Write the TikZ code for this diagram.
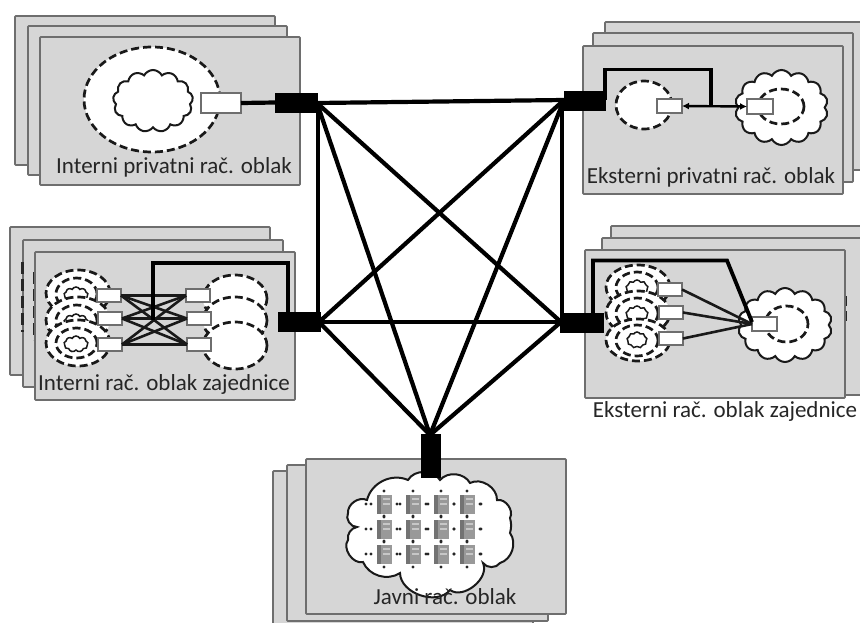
\documentclass[tikz,border=0pt]{standalone}
\usepackage{fontspec}
\setmainfont{Carlito}
\usetikzlibrary{shapes.geometric,shapes.symbols,arrows.meta}
\definecolor{cardgray}{HTML}{D6D6D6}
\definecolor{cardline}{HTML}{6E6E6E}
\tikzset{
  card/.style={draw=cardline,line width=1.7pt,fill=cardgray,rounded corners=0.8pt,inner sep=0,outer sep=0},
  whitebox/.style={draw=cardline,line width=1.7pt,fill=white,inner sep=0,outer sep=0},
  blackbox/.style={draw=black,fill=black,line width=0.5pt,inner sep=0,outer sep=0},
  dashell/.style={ellipse,draw=black!90,fill=white,line width=2.7pt,dash pattern=on 8pt off 4pt,inner sep=0,outer sep=0},
  dashopen/.style={ellipse,draw=black!90,line width=2.7pt,dash pattern=on 8pt off 4pt,inner sep=0,outer sep=0},
  cloudn/.style={cloud,draw=black!90,fill=white,line width=2pt,cloud puffs=11,cloud puff arc=125,aspect=1.3,inner sep=0,outer sep=0},
  trunk/.style={draw=black,line width=4.2pt},
  thickpath/.style={draw=black,line width=3.8pt,line join=miter},
  thinlink/.style={draw=black!90,line width=2.6pt},
  lbl/.style={font=\fontsize{23}{25}\selectfont,text=black!85,inner sep=0,outer sep=0},
  srvdot/.style={circle,fill=black!85,inner sep=0,minimum size=3.2pt},
  srvface/.style={draw=none,fill=black!40,inner sep=0},
}
\newcommand{\bx}[6]{\node[#2,minimum width={(#5)-(#3)},minimum height={(#6)-(#4)}] (#1) at ({((#3)+(#5))/2},{((#4)+(#6))/2}) {};}
\newcommand{\elln}[6]{\node[#2,minimum width={(#5)-(#3)},minimum height={(#6)-(#4)}] (#1) at ({((#3)+(#5))/2},{((#4)+(#6))/2}) {};}
\begin{document}
\begin{tikzpicture}[x=1pt,y=-1pt]
\useasboundingbox (0,0) rectangle (860,622);
\clip (0,0) rectangle (860,622);
% top-left stack
\bx{tlA}{card}{15}{16}{275}{165}
\bx{tlB}{card}{28}{26}{287}{175}
\bx{tlC}{card}{40}{37}{300}{185}
\elln{tlE}{dashell}{84}{47}{220}{152}
\elln{tlCl}{cloudn,cloud puffs=13}{113}{70}{193}{132}
\bx{tlW}{whitebox}{201}{93}{241}{113}
\node[lbl] (tlL) at (174,167) {Interni privatni rač. oblak};
% top-right stack
\bx{trA}{card}{605}{22}{880}{170}
\bx{trB}{card}{593}{33}{853}{182}
\bx{trC}{card}{583}{46}{843}{194}
\elln{trE}{dashell}{616}{81}{672}{129}
\elln{trCl}{cloudn,cloud puffs=14}{735}{70}{828}{145}
\elln{trI}{dashopen}{758}{89}{804}{124}
\bx{trW}{whitebox}{657}{99}{682}{113}
\bx{trV}{whitebox}{747}{99}{773}{114}
\node[lbl] (trL) at (711,177) {Eksterni privatni rač. oblak};
% middle-left stack
\bx{mlA}{card}{10}{227}{270}{375}
\bx{mlB}{card}{23}{240}{283}{387}
\draw[black!85,line width=3pt,dash pattern=on 12pt off 5pt] (22,262) -- (22,332);
\draw[black!85,line width=2.6pt,dash pattern=on 12pt off 5pt] (34,272) -- (34,340);
\bx{mlC}{card}{35}{252}{295}{400}
\foreach \n/\y in {a/270,b/297}{
  \elln{mlO\n}{dashell}{46}{\y}{110}{\y+46}
  \elln{mlI\n}{dashell}{56}{\y+8}{97}{\y+40}
  \elln{mlK\n}{cloudn,line width=1.5pt,cloud puffs=9}{64}{\y+17}{88}{\y+33}
}
\elln{mlOc}{dashell}{46}{320}{110}{366}
\elln{mlIc}{dashell}{56}{328}{97}{358}
\elln{mlKc}{cloudn,line width=1.5pt,cloud puffs=9}{64}{336}{88}{352}
\foreach \n/\y in {a/275,b/297,c/322}{
  \elln{mlR\n}{dashell}{203}{\y}{267}{\y+47}
}
\bx{mlL1}{whitebox}{97}{289}{121}{302}
\bx{mlL2}{whitebox}{98}{312}{122}{325}
\bx{mlL3}{whitebox}{98}{338}{122}{351}
\bx{mlR1}{whitebox}{186}{289}{210}{302}
\bx{mlR2}{whitebox}{187}{312}{211}{325}
\bx{mlR3}{whitebox}{187}{338}{211}{351}
\foreach \i in {1,2,3}\foreach \j in {1,2,3}{\draw[thinlink] (mlL\i.east) -- (mlR\j.west);}
\node[lbl] (mlT) at (164,384) {Interni rač. oblak zajednice};
% middle-right stack
\bx{mrA}{card}{611}{226}{880}{385}
\bx{mrB}{card}{602}{238}{880}{395}
\draw[black!85,line width=2.6pt,dash pattern=on 10pt off 5pt] (846,296) -- (846,322);
\bx{mrC}{card}{585}{250}{845}{398}
\foreach \n/\y in {a/265,b/291}{
  \elln{mrO\n}{dashell}{606}{\y}{670}{\y+44}
  \elln{mrI\n}{dashell}{616}{\y+7}{658}{\y+38}
  \elln{mrK\n}{cloudn,line width=1.5pt,cloud puffs=9}{626}{\y+15}{648}{\y+31}
}
\elln{mrOc}{dashell}{606}{319}{670}{361}
\elln{mrIc}{dashell}{616}{325}{658}{356}
\elln{mrKc}{cloudn,line width=1.5pt,cloud puffs=9}{627}{332}{647}{348}
\elln{mrCl}{cloudn,cloud puffs=14}{738}{288}{832}{362}
\elln{mrI}{dashopen}{765}{306}{808}{342}
\bx{mrL1}{whitebox}{658}{283}{682}{296}
\bx{mrL2}{whitebox}{659}{306}{683}{319}
\bx{mrL3}{whitebox}{659}{332}{683}{345}
\bx{mrV}{whitebox}{752}{317}{777}{331}
\foreach \i in {1,2,3}{\draw[thinlink] (mrL\i.east) -- (mrV.west);}
\node[lbl] (mrT) at (725,411) {Eksterni rač. oblak zajednice};
% bottom stack
\bx{bA}{card}{273}{471}{533}{640}
\bx{bB}{card}{287}{465}{548}{621}
\bx{bC}{card}{306}{459}{566}{614}
% bottom cloud
\draw[black!90,fill=white,line width=2pt]
  (367,500) to[bend left=50] (408,480) to[bend left=60] (440,480) to[bend left=55] (470,483)
  to[bend left=60] (497,500) to[bend left=65] (510,518) to[bend left=15] (510,533)
  to[bend left=55] (500,563) to[bend left=55] (483,563) to[bend left=75] (450,590) to[bend left=70] (400,573)
  to[bend left=50] (363,562) to[bend left=70] (348,540) to[bend left=45] (357,527) to[bend left=60] (348,513) to[bend left=60] (367,500) -- cycle;
\foreach \c/\x in {1/384,2/413,3/441,4/467}\foreach \r/\y in {1/504,2/529,3/554}{
  \node[srvdot] (dl\c\r) at (\x-13,\y) {};
  \node[srvdot] (dr\c\r) at (\x+13,\y) {};
  \node[srvdot] (dt\c\r) at (\x,\y-13) {};
  \node[srvdot] (db\c\r) at (\x,\y+13) {};
  \node[srvface,minimum width=15pt,minimum height=19pt] (sv\c\r) at (\x,\y) {};
  \fill[black!55] (\x-7.5,\y-9.5) rectangle (\x-3.5,\y+9.5);
  \fill[black!22] (\x-1,\y-6) rectangle (\x+6,\y-4);
  \fill[black!22] (\x-1,\y-1) rectangle (\x+6,\y+0.5);
}
\foreach \r/\y in {1/504,2/529,3/554}{
  \node[srvdot] (dlf\r) at (366,\y) {};
  \node[srvdot] (drf\r) at (481,\y) {};
}
\node[lbl] (bT) at (445,597) {Javni rač. oblak};
% black port boxes
\bx{pTL}{blackbox}{275}{93}{317}{112}
\bx{pTR}{blackbox}{564}{91}{605}{110}
\bx{pML}{blackbox}{278}{312}{320}{331}
\bx{pMR}{blackbox}{560}{313}{603}{332}
\bx{pB}{blackbox}{421}{434}{440}{477}
\coordinate (hTL) at (317,103);
\coordinate (hTR) at (564,100);
\coordinate (hML) at (319,322);
\coordinate (hMR) at (561,322);
\coordinate (hB) at (430,435);
% local links
\draw[trunk] (tlW.east) -- (pTL.west);
\draw[thickpath] (605,100) -- (605,69.5) -- (711,69.5) -- (711,107);
\draw[black,line width=2.4pt,{Latex[length=7pt,width=7pt]}-{Latex[length=7pt,width=7pt]}] (trW.east) -- (trV.west);
\draw[thickpath] (288,313) -- (288,263) -- (153,263) -- (153,320);
\draw[thickpath] (593,314) -- (593,260.5) -- (727,260.5) -- (752,322);
% trunk mesh
\draw[trunk] (hTL) -- (hTR);
\draw[trunk] (318,103) -- (318,322);
\draw[trunk] (hTL) -- (hMR);
\draw[trunk] (hTL) -- (hB);
\draw[trunk] (hTR) -- (hML);
\draw[trunk] (562,100) -- (562,322);
\draw[trunk] (hTR) -- (hB);
\draw[trunk] (hML) -- (hMR);
\draw[trunk] (hML) -- (hB);
\draw[trunk] (hMR) -- (hB);
\end{tikzpicture}
\end{document}
